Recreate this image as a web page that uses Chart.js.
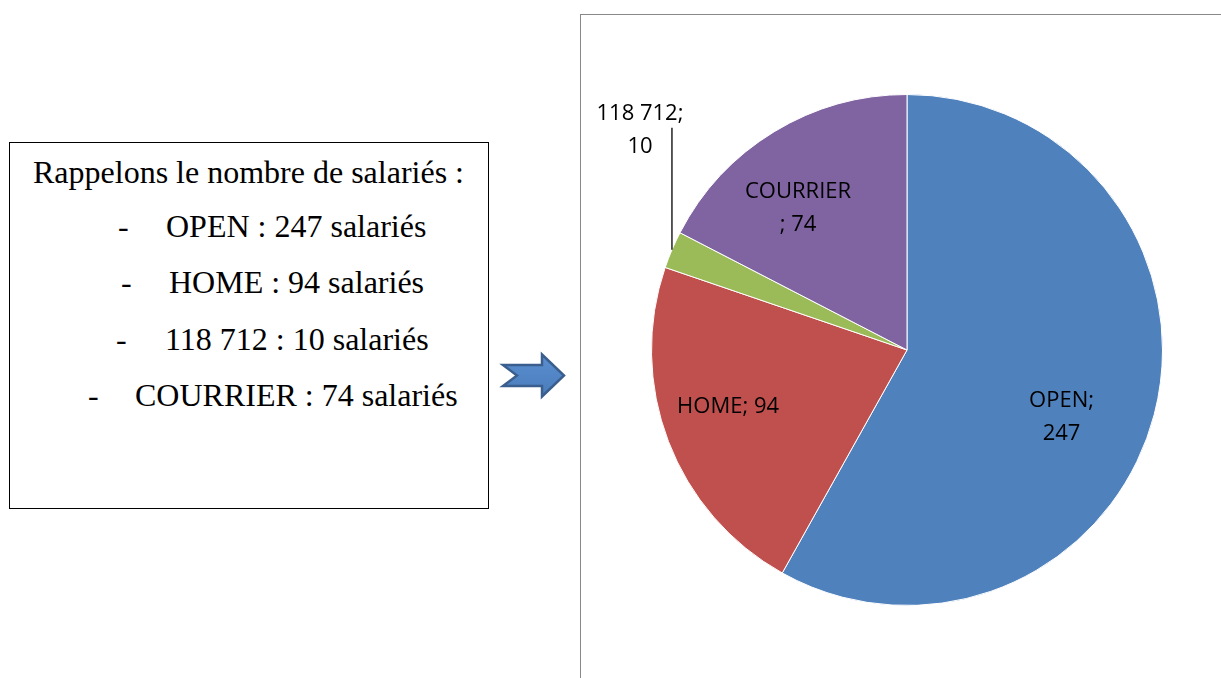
<!DOCTYPE html>
<html lang="fr">
<head>
<meta charset="utf-8">
<title>Nombre de salariés</title>
<script src="https://cdn.jsdelivr.net/npm/chart.js@4/dist/chart.umd.min.js"></script>
<style>
  html, body { margin: 0; padding: 0; background: #fff; }
  body { width: 1221px; height: 678px; position: relative; overflow: hidden; }
  #recap {
    position: absolute; left: 9px; top: 142px; width: 478px; height: 365px;
    border: 1.5px solid #000; box-sizing: content-box;
    font-family: "Liberation Serif", "Times New Roman", serif; font-size: 32px; color: #000;
  }
  #recap .line { position: absolute; white-space: nowrap; line-height: 1; }
  #arrow { position: absolute; left: 498px; top: 350px; }
  #frame {
    position: absolute; left: 580px; top: 14px; width: 700px; height: 700px;
    border-left: 1.5px solid #888; border-top: 1.5px solid #888;
  }
  #pie { position: absolute; left: 582px; top: 16px; }
</style>
</head>
<body>

<div id="recap"></div>

<svg id="arrow" width="70" height="52" viewBox="498 350 70 52">
  <defs>
    <linearGradient id="arrowFill" x1="0" y1="0" x2="0" y2="1">
      <stop offset="0" stop-color="#5b8fd0"/>
      <stop offset="1" stop-color="#4a7cbb"/>
    </linearGradient>
  </defs>
  <polygon points="503,365 542,365 542,354.5 564,375.5 542,396.5 542,386 503,386 517,375.5"
           fill="url(#arrowFill)" stroke="#3a5f8e" stroke-width="2.5" stroke-linejoin="miter"/>
</svg>

<div id="frame"></div>
<canvas id="pie" width="639" height="662" style="width:639px;height:662px"></canvas>

<script>
// ── Data ───────────────────────────────────────────────
const categories = ['OPEN', 'HOME', '118 712', 'COURRIER'];
const salaries = [247, 94, 10, 74];
const sliceColors = ['#4f81bd', '#c0504d', '#9bbb59', '#8064a2'];

// ── Recap box (left) ───────────────────────────────────
const recap = document.getElementById('recap');
const title = document.createElement('div');
title.className = 'line';
title.style.left = '23px';
title.style.top = '13px';
title.textContent = 'Rappelons le nombre de salariés :';
recap.appendChild(title);

// dash x, text x (inside the box) for each list row
const rowX = [[108, 156], [111, 159], [106, 155], [78, 125]];
categories.forEach((c, i) => {
  const top = 67 + i * 56.3;
  const dash = document.createElement('div');
  dash.className = 'line';
  dash.style.left = rowX[i][0] + 'px';
  dash.style.top = top + 'px';
  dash.textContent = '-';
  const txt = document.createElement('div');
  txt.className = 'line';
  txt.style.left = rowX[i][1] + 'px';
  txt.style.top = top + 'px';
  txt.textContent = `${c} : ${salaries[i]} salariés`;
  recap.appendChild(dash);
  recap.appendChild(txt);
});

// ── Slice labels ───────────────────────────────────────
// where each "name; value" label sits: radius fraction, angle shift (deg), text lines
const labelSpec = [
  { r: 0.66, shift: 9, lines: c => [c.name + ';', String(c.value)] },
  { r: 0.735, shift: 3.3, lines: c => [c.name + '; ' + c.value] },
  { outside: true, leader: 122, dx: -32, lines: c => [c.name + ';', String(c.value)] },
  { r: 0.70, shift: -6.2, lines: c => [c.name, '; ' + c.value] },
];

const sliceLabels = {
  id: 'sliceLabels',
  afterDatasetsDraw(chart) {
    const ctx = chart.ctx;
    const arcs = chart.getDatasetMeta(0).data;
    ctx.save();
    ctx.font = '22px "Open Sans", "Noto Sans", sans-serif';
    ctx.fillStyle = '#000';
    ctx.textAlign = 'center';
    ctx.textBaseline = 'middle';
    const lh = 33;
    arcs.forEach((arc, i) => {
      const { x, y, startAngle, endAngle, outerRadius } = arc.getProps(['x', 'y', 'startAngle', 'endAngle', 'outerRadius'], true);
      const spec = labelSpec[i];
      const lines = spec.lines({ name: categories[i], value: salaries[i] });
      const mid = (startAngle + endAngle) / 2;
      let cx, cy;
      if (spec.outside) {
        const px = x + Math.cos(mid) * outerRadius;
        const py = y + Math.sin(mid) * outerRadius;
        ctx.beginPath();
        ctx.strokeStyle = '#000';
        ctx.lineWidth = 1.3;
        ctx.moveTo(px, py);
        ctx.lineTo(px, py - spec.leader);
        ctx.stroke();
        cx = px + spec.dx;
        cy = py - spec.leader + 2;
      } else {
        const a = mid + spec.shift * Math.PI / 180;
        cx = x + Math.cos(a) * outerRadius * spec.r;
        cy = y + Math.sin(a) * outerRadius * spec.r;
      }
      const y0 = cy - (lines.length - 1) * lh / 2;
      lines.forEach((t, k) => ctx.fillText(t, cx, y0 + k * lh));
    });
    ctx.restore();
  },
};

// ── Chart ──────────────────────────────────────────────
new Chart(document.getElementById('pie').getContext('2d'), {
  type: 'pie',
  data: {
    labels: categories,
    datasets: [{
      data: salaries,
      backgroundColor: sliceColors,
      borderColor: '#ffffff',
      borderWidth: 1,
    }],
  },
  options: {
    responsive: false,
    animation: false,
    layout: { padding: { left: 69, right: 58, top: 78, bottom: 72 } },
    plugins: {
      legend: { display: false },
      tooltip: { enabled: false },
      title: { display: false },
    },
  },
  plugins: [sliceLabels],
});
</script>
</body>
</html>
